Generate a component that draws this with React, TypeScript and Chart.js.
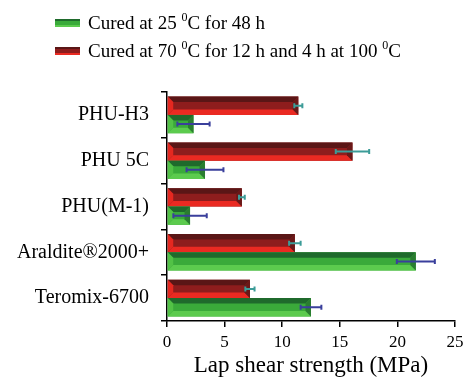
import React, { useEffect, useRef } from "react";
import { Chart, registerables } from "chart.js";

Chart.register(...registerables);

const categories = ["PHU-H3", "PHU 5C", "PHU(M-1)", "Araldite®2000+", "Teromix-6700"];
const cured25 = [2.3, 3.3, 2.0, 21.6, 12.5];
const err25 = [1.4, 1.6, 1.45, 1.65, 0.9];
const cured70 = [11.4, 16.1, 6.5, 11.1, 7.2];
const err70 = [0.35, 1.45, 0.25, 0.5, 0.4];
const xTicks = [0, 5, 10, 15, 20, 25];

const FONT = "'Liberation Serif', 'Times New Roman', serif";

const shades: Record<string, { top: string; mid: string; bot: string; left: string; right: string; err: string }> = {
  red: { top: "#5a1616", mid: "#8e1d1d", bot: "#ea2a22", left: "#e52820", right: "#6a1818", err: "#3c9c98" },
  green: { top: "#1f6a2c", mid: "#3aaa3a", bot: "#5ccb4e", left: "#52c246", right: "#2a7d30", err: "#3a3f9c" },
};

const bar3d = {
  id: "bar3d",
  afterDatasetsDraw(chart: any) {
    const ctx = chart.ctx;
    const xs = chart.scales.x;
    chart.data.datasets.forEach((ds: any, di: number) => {
      const meta = chart.getDatasetMeta(di);
      const s = shades[ds.shade];
      meta.data.forEach((el: any) => {
        const x0 = Math.min(el.base, el.x);
        const x1 = Math.max(el.base, el.x);
        const top = el.y - el.height / 2;
        const bot = el.y + el.height / 2;
        const d = Math.min(el.height * 0.3, (x1 - x0) / 2);
        const poly = (pts: number[][], c: string) => {
          ctx.beginPath();
          ctx.moveTo(pts[0][0], pts[0][1]);
          for (let k = 1; k < pts.length; k++) ctx.lineTo(pts[k][0], pts[k][1]);
          ctx.closePath();
          ctx.fillStyle = c;
          ctx.fill();
        };
        ctx.save();
        poly([[x0, top], [x1, top], [x1, bot], [x0, bot]], s.mid);
        poly([[x0, top], [x1, top], [x1 - d, top + d], [x0 + d, top + d]], s.top);
        poly([[x0, bot], [x1, bot], [x1 - d, bot - d], [x0 + d, bot - d]], s.bot);
        poly([[x0, top], [x0 + d, top + d], [x0 + d, bot - d], [x0, bot]], s.left);
        poly([[x1, top], [x1 - d, top + d], [x1 - d, bot - d], [x1, bot]], s.right);
        ctx.restore();
      });
    });
    chart.data.datasets.forEach((ds: any, di: number) => {
      const meta = chart.getDatasetMeta(di);
      const s = shades[ds.shade];
      meta.data.forEach((el: any, i: number) => {
        const v = ds.data[i];
        const e = ds.errors[i];
        const xa = xs.getPixelForValue(v - e);
        const xb = xs.getPixelForValue(v + e);
        const y = el.y;
        ctx.save();
        ctx.strokeStyle = s.err;
        ctx.lineWidth = 2;
        ctx.beginPath();
        ctx.moveTo(xa, y);
        ctx.lineTo(xb, y);
        ctx.moveTo(xa, y - 2.5);
        ctx.lineTo(xa, y + 2.5);
        ctx.moveTo(xb, y - 2.5);
        ctx.lineTo(xb, y + 2.5);
        ctx.stroke();
        ctx.restore();
      });
    });
  },
};

function Swatch({ shade }: { shade: string }) {
  const s = shades[shade];
  return (
    <div
      style={{
        width: 25,
        height: 8,
        background: `linear-gradient(to bottom, ${s.top} 0%, ${s.top} 30%, ${s.mid} 30%, ${s.mid} 70%, ${s.bot} 70%, ${s.bot} 100%)`,
        marginRight: 8,
        flex: "none",
      }}
    />
  );
}

const Deg = () => (
  <span style={{ fontSize: 12, verticalAlign: "top", lineHeight: "20px", position: "relative", top: -2 }}>0</span>
);

export default function App() {
  const ref = useRef<HTMLCanvasElement | null>(null);
  useEffect(() => {
    if (!ref.current) return;
    const chart = new Chart(ref.current, {
      type: "bar",
      data: {
        labels: categories,
        datasets: [
          {
            label: "Cured at 70 0C for 12 h and 4 h at 100 0C",
            data: cured70,
            errors: err70,
            shade: "red",
            backgroundColor: "rgba(0,0,0,0)",
            categoryPercentage: 0.8,
            barPercentage: 1.0,
          } as any,
          {
            label: "Cured at 25 0C for 48 h",
            data: cured25,
            errors: err25,
            shade: "green",
            backgroundColor: "rgba(0,0,0,0)",
            categoryPercentage: 0.8,
            barPercentage: 1.0,
          } as any,
        ],
      },
      options: {
        indexAxis: "y",
        responsive: false,
        animation: false,
        devicePixelRatio: 1,
        layout: { padding: { top: 92, right: 9, bottom: 0, left: 0 } },
        plugins: { legend: { display: false }, tooltip: { enabled: false } },
        scales: {
          y: {
            type: "category",
            grid: { offset: true, drawOnChartArea: false, tickLength: 6, color: "#000", lineWidth: 1.5 },
            border: { color: "#000", width: 1.5 },
            ticks: { color: "#000", font: { family: FONT, size: 20 }, padding: 12 },
            afterFit: (s: any) => {
              s.width = 167;
            },
          },
          x: {
            type: "linear",
            min: xTicks[0],
            max: xTicks[xTicks.length - 1],
            afterBuildTicks: (s: any) => {
              s.ticks = xTicks.map((v) => ({ value: v }));
            },
            grid: { drawOnChartArea: false, tickLength: 6, color: "#000", lineWidth: 1.5 },
            border: { color: "#000", width: 1.5 },
            ticks: { color: "#000", font: { family: FONT, size: 17 }, padding: 5, maxRotation: 0 },
            title: {
              display: true,
              text: "Lap shear strength (MPa)",
              color: "#000",
              font: { family: FONT, size: 23 },
              padding: { top: 0, bottom: 0 },
            },
            afterFit: (s: any) => {
              s.height = 59;
              s.paddingRight = 0;
              s.paddingLeft = 0;
            },
          },
        },
      } as any,
      plugins: [bar3d],
    });
    return () => chart.destroy();
  }, []);

  return (
    <div style={{ position: "absolute", left: 0, top: 0, width: 464, height: 380, background: "#fff", overflow: "hidden" }}>
      <canvas ref={ref} width={464} height={380} style={{ position: "absolute", left: 0, top: 0 }} />
      <div
        style={{
          position: "absolute",
          left: 55,
          top: 9,
          fontFamily: FONT,
          fontSize: 19,
          color: "#000",
          lineHeight: "28px",
          whiteSpace: "nowrap",
        }}
      >
        <div style={{ display: "flex", alignItems: "center", height: 28 }}>
          <Swatch shade="green" />
          <span>
            Cured at 25 <Deg />C for 48 h
          </span>
        </div>
        <div style={{ display: "flex", alignItems: "center", height: 28 }}>
          <Swatch shade="red" />
          <span>
            Cured at 70 <Deg />C for 12 h and 4 h at 100 <Deg />C
          </span>
        </div>
      </div>
    </div>
  );
}
